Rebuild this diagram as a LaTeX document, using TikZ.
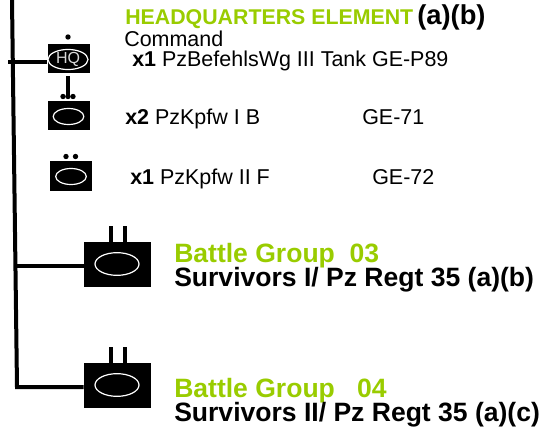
\documentclass[tikz,border=0pt]{standalone}
\usepackage{fontspec}
\setmainfont{Liberation Sans}
\usetikzlibrary{shapes.geometric}
\definecolor{lime}{RGB}{153,204,0}
\tikzset{x=0.75pt,y=-0.75pt,
 smallbox/.style={fill=black,draw=none,inner sep=0pt,minimum width=31.5pt,minimum height=22pt},
 bigbox/.style={fill=black,draw=none,inner sep=0pt,minimum width=50.5pt,minimum height=34pt},
 smalloval/.style={draw=white,ellipse,line width=.9pt,inner sep=0pt,minimum width=23pt,minimum height=12pt},
 bigoval/.style={draw=white,ellipse,line width=.9pt,inner sep=0pt,minimum width=33pt,minimum height=17pt},
 txt/.style={anchor=base west,inner sep=0pt,font=\fontsize{16.1pt}{18pt}\selectfont},
 head/.style={anchor=base west,inner sep=0pt,font=\fontsize{19.9pt}{22pt}\selectfont\bfseries},
 link/.style={line width=3pt,draw=black},
 leg/.style={line width=3pt,draw=black},
 dotmark/.style={circle,fill=black,inner sep=0pt,minimum size=4pt}}
\begin{document}
\begin{tikzpicture}
\useasboundingbox (0,0) rectangle (540,432);
% trunk
\coordinate (t0) at (12,0);
\coordinate (t1) at (17,387);
\node[bigbox] (g4) at (117.5,385.5) {};
\draw[link,line join=miter] (t0) -- (t1) -- (g4.west |- t1);
% boxes
\node[smallbox] (hq) at (68.5,58.5) {};
\node[smallbox] (b2) at (68.5,115.5) {};
\node[smallbox] (b3) at (71,176) {};
\node[bigbox] (g3) at (117.5,264.5) {};
\node[smalloval,minimum width=30pt,minimum height=14pt,font=\fontsize{12pt}{14pt}\selectfont,text=white!85!black] (hqo) at (68,59.5) {HQ};
\node[smalloval] (o2) at (68.5,116.5) {};
\node[smalloval] (o3) at (71,176.5) {};
\node[bigoval] (og3) at (117,264) {};
\node[bigoval] (og4) at (117,385) {};
% connectors
\coordinate (hqw) at (8,62);
\draw[link] (hqw) -- (hq.west |- hqw);
\coordinate (hqs) at (68.3,76);
\coordinate (hqt) at (68.3,97);
\draw[link] (hqs) -- (hqt);
\coordinate (g3w) at (15,266);
\draw[link] (g3w) -- (g3.west |- g3w);
% echelon marks
\node[dotmark] (d1) at (68,37) {};
\node[dotmark] (d2a) at (63,96.5) {};
\node[dotmark] (d2b) at (68,96.5) {};
\node[dotmark] (d2c) at (73,96.5) {};
\node[dotmark] (d3a) at (66,156.5) {};
\node[dotmark] (d3b) at (75.5,156.5) {};
\draw[leg] (111,226) -- (g3.north -| 111,0);
\draw[leg] (125,226) -- (g3.north -| 125,0);
\draw[leg] (111,347) -- (g4.north -| 111,0);
\draw[leg] (125,347) -- (g4.north -| 125,0);
% text
\node[head,text=lime,font=\fontsize{16pt}{18pt}\selectfont\bfseries] (t1h) at (125,25) {HEADQUARTERS ELEMENT};
\node[head,font=\fontsize{20.5pt}{22pt}\selectfont\bfseries] (t1r) at (417,25) {(a)(b)};
\node[txt] (tc) at (124,46) {Command};
\node[txt] (tl1) at (132,66) {\textbf{x1} PzBefehlsWg III Tank GE-P89};
\node[txt] (tl2) at (125,124) {\textbf{x2} PzKpfw I B};
\node[txt] (tl2b) at (362,124) {GE-71};
\node[txt] (tl3) at (130,184) {\textbf{x1} PzKpfw II F};
\node[txt] (tl3b) at (372,184) {GE-72};
\node[head,text=lime] (bg3) at (174,262) {Battle Group\ \ 03};
\node[head] (s3) at (174,286) {Survivors I/ Pz Regt 35 (a)(b)};
\node[head,text=lime] (bg4) at (174,397) {Battle Group\ \ \ 04};
\node[head] (s4) at (174,421.5) {Survivors II/ Pz Regt 35 (a)(c)};
\end{tikzpicture}
\end{document}
